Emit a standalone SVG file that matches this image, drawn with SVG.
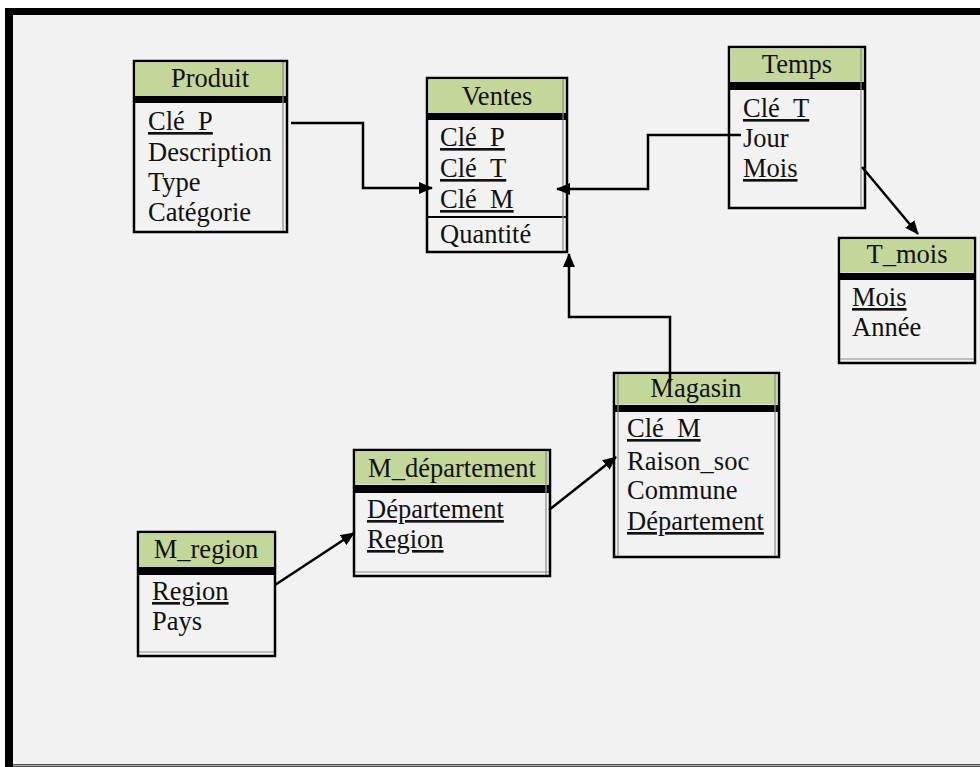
<svg xmlns="http://www.w3.org/2000/svg" width="980" height="767" viewBox="0 0 980 767">
<defs>
<style>
.box{fill:#f2f2f2;stroke:#000;stroke-width:2.5}
.in{fill:none;stroke:#8a8a8a;stroke-width:1.2}
.hd{fill:#c4d79b}
.bar{fill:#000}
text{font-family:"Liberation Serif","Times New Roman",serif;font-size:26.5px;fill:#111}
.t{text-anchor:middle}
.u{text-decoration:underline}
.c{fill:none;stroke:#000;stroke-width:2.5}
</style>
<marker id="ah" viewBox="0 0 14 12" refX="13" refY="6" markerWidth="14" markerHeight="12" markerUnits="userSpaceOnUse" orient="auto">
<path d="M0,0 L14,6 L0,12 Z" fill="#000"/>
</marker>
</defs>
<rect x="0" y="0" width="980" height="767" fill="#fff"/>
<rect x="5" y="8" width="980" height="759" fill="#000"/>
<rect x="13" y="15" width="972" height="749" fill="#f2f2f2"/>
<line x1="13" y1="765.5" x2="980" y2="765.5" stroke="#a8a8a8" stroke-width="2"/>

<g id="produit">
<rect class="box" x="134" y="61" width="153" height="171"/>
<rect class="hd" x="135.5" y="62.5" width="150" height="34"/>
<rect class="bar" x="135" y="96" width="151" height="7"/>
<line class="in" x1="283" y1="62" x2="283" y2="231"/>
<text class="t" x="210" y="87">Produit</text>
<text class="u" x="148" y="130">Clé_P</text>
<text x="148" y="161">Description</text>
<text x="148" y="191">Type</text>
<text x="148" y="221">Catégorie</text>
</g>

<g id="ventes">
<rect class="box" x="427" y="78" width="140" height="174"/>
<rect class="hd" x="428.5" y="79.5" width="137" height="34"/>
<rect class="bar" x="428" y="113" width="138" height="7"/>
<line x1="427" y1="217" x2="567" y2="217" stroke="#000" stroke-width="2"/>
<line class="in" x1="563" y1="79" x2="563" y2="251"/>
<text class="t" x="497" y="105">Ventes</text>
<text class="u" x="440" y="146">Clé_P</text>
<text class="u" x="440" y="177">Clé_T</text>
<text class="u" x="440" y="208">Clé_M</text>
<text x="440" y="243">Quantité</text>
</g>

<g id="temps">
<rect class="box" x="729" y="47" width="136" height="161"/>
<rect class="hd" x="730.5" y="48.5" width="133" height="34"/>
<rect class="bar" x="730" y="82" width="134" height="8"/>
<line class="in" x1="861" y1="48" x2="861" y2="207"/>
<text class="t" x="797" y="73">Temps</text>
<text class="u" x="743" y="117">Clé_T</text>
<text x="743" y="147">Jour</text>
<text class="u" x="743" y="177">Mois</text>
</g>

<g id="t_mois">
<rect class="box" x="839" y="238" width="136" height="125"/>
<rect class="hd" x="840.5" y="239.5" width="133" height="33"/>
<rect class="bar" x="840" y="273" width="134" height="7"/>
<line class="in" x1="840" y1="359" x2="974" y2="359"/>
<text class="t" x="907" y="263">T_mois</text>
<text class="u" x="852" y="306">Mois</text>
<text x="852" y="336">Année</text>
</g>

<g id="magasin">
<rect class="box" x="614" y="373" width="165" height="184"/>
<rect class="hd" x="615.5" y="374.5" width="162" height="30"/>
<rect class="bar" x="615" y="405" width="163" height="7"/>
<line class="in" x1="775" y1="374" x2="775" y2="556"/>
<line class="in" x1="618" y1="374" x2="618" y2="556"/>
<text class="t" x="696" y="397">Magasin</text>
<text class="u" x="627" y="437">Clé_M</text>
<text x="627" y="470">Raison_soc</text>
<text x="627" y="499">Commune</text>
<text class="u" x="627" y="530">Département</text>
</g>

<g id="m_departement">
<rect class="box" x="354" y="450" width="196" height="126"/>
<rect class="hd" x="355.5" y="451.5" width="193" height="33"/>
<rect class="bar" x="355" y="485" width="194" height="8"/>
<line class="in" x1="355" y1="572" x2="549" y2="572"/>
<line class="in" x1="546" y1="451" x2="546" y2="575"/>
<text class="t" x="452" y="477">M_département</text>
<text class="u" x="367" y="518">Département</text>
<text class="u" x="367" y="548">Region</text>
</g>

<g id="m_region">
<rect class="box" x="138" y="532" width="137" height="124"/>
<rect class="hd" x="139.5" y="533.5" width="134" height="34"/>
<rect class="bar" x="139" y="567" width="135" height="8"/>
<line class="in" x1="139" y1="652" x2="274" y2="652"/>
<text class="t" x="206" y="558">M_region</text>
<text class="u" x="152" y="600">Region</text>
<text x="152" y="630">Pays</text>
</g>

<g id="connectors">
<polyline class="c" points="291,123 363,123 363,188 432,188" marker-end="url(#ah)"/>
<polyline class="c" points="741,135 648,135 648,189 557,189" marker-end="url(#ah)"/>
<polyline class="c" points="670,382 670,317 569,317 569,254" marker-end="url(#ah)"/>
<line class="c" x1="862" y1="167" x2="918" y2="234" marker-end="url(#ah)"/>
<line class="c" x1="549" y1="510" x2="616" y2="457" marker-end="url(#ah)"/>
<line class="c" x1="275" y1="585" x2="354" y2="533" marker-end="url(#ah)"/>
</g>
</svg>
